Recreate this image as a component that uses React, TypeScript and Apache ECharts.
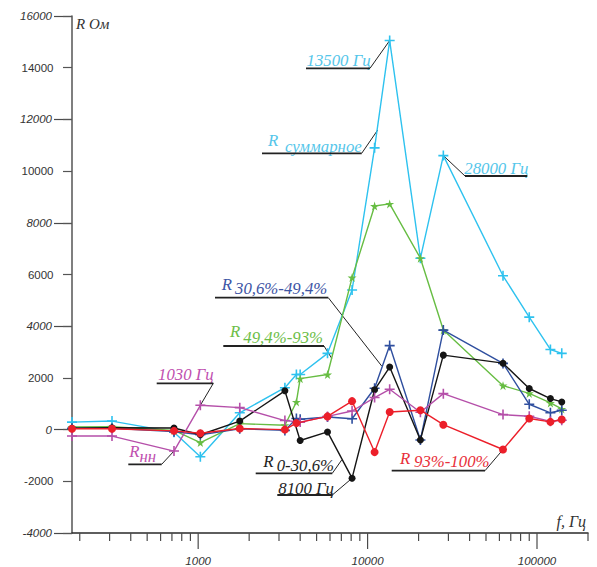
import React, { useEffect, useRef } from "react";
import * as echarts from "echarts";

// ---- data ----
const FREQS = [180, 310, 720, 1030, 1760, 3250, 3800, 4000, 5800, 8100, 11000, 13500, 20500, 28000, 63000, 90000, 120000, 140000];
const R_SUM = [290, 330, -100, -1050, 650, 1620, 2130, 2130, 2950, 5400, 10900, 15050, 6630, 10600, 5950, 4350, 3100, 2950];
const R_49_93 = [100, 110, -30, -500, 230, 170, 1070, 1970, 2130, 5880, 8650, 8730, 6630, 3850, 1700, 1400, 1030, 800];
const R_306_494 = [50, 50, -80, -200, 30, -30, 430, 400, 490, 420, 1600, 3250, -400, 3850, 2560, 980, 650, 750];
const R_0_306 = [50, 70, 60, -200, 330, 1500, null, -420, -90, -1880, 1540, 2420, -400, 2880, 2570, 1590, 1200, 1070];
const R_93_100 = [30, 30, -50, -140, 40, 0, 250, null, 510, 1100, -870, 680, 750, 190, -770, 430, 300, 390];
const R_NN = [-250, -250, -830, 940, 850, 350, null, 290, 510, 720, 1240, 1560, 670, 1390, 580, 515, 320, 360];

const X_MIN = 180;
const X_MAX = 200000;
const Y_MIN = -4000;
const Y_MAX = 16000;
const X_TICKS = [200, 300, 400, 500, 600, 700, 800, 900, 1000, 2000, 3000, 4000, 5000, 6000, 7000, 8000, 9000, 10000, 20000, 30000, 40000, 50000, 60000, 70000, 80000, 90000, 100000, 200000];
const X_TICK_LABELS = [1000, 10000, 100000];

// ---- styles ----
const CYAN = "#2ec2ef";
const GREEN = "#67bd43";
const BLUE = "#2f4f9f";
const BLACK = "#151515";
const RED = "#ec1f2a";
const MAGENTA = "#b54fa9";

const PLUS = "path://M4.2,0H5.8V4.2H10V5.8H5.8V10H4.2V5.8H0V4.2H4.2Z";
const STAR = "path://M50,0L61,35H98L68,57L79,91L50,70L21,91L32,57L2,35H39Z";

const SERIF = '"Liberation Serif", "DejaVu Serif", serif';
const SANS = '"Liberation Sans", Arial, sans-serif';

function pts(values: (number | null)[]) {
  return FREQS.map((f, i) => [f, values[i]]).filter((p) => p[1] !== null);
}

type Piece = { text: string; x: number; cy: number; size?: number };
type Ann = {
  color: string;
  pieces: Piece[];
  ul: [number, number, number]; // x1, x2, y
  from: [number, number];
  to: { px?: [number, number]; data?: [number, number] };
};

export default function App() {
  const ref = useRef<HTMLDivElement>(null);

  useEffect(() => {
    document.body.style.margin = "0";
    const chart = echarts.init(ref.current!, null, { renderer: "svg" });

    const line = (name: string, data: (number | null)[], color: string, symbol: string, size: number, z: number) => ({
      name,
      type: "line",
      data: pts(data),
      xAxisIndex: 0,
      yAxisIndex: 0,
      symbol,
      symbolSize: size,
      showSymbol: true,
      lineStyle: { color, width: 1.4 },
      itemStyle: { color },
      z,
    });

    chart.setOption({
      animation: false,
      backgroundColor: "#ffffff",
      grid: { left: 72, right: 9, top: 16, bottom: 34, containLabel: false },
      xAxis: {
        type: "log",
        logBase: 10,
        min: X_MIN,
        max: X_MAX,
        axisLine: { show: true, onZero: false, lineStyle: { color: "#2a2a2a", width: 1.5 } },
        axisTick: { show: false },
        axisLabel: { show: false },
        splitLine: { show: false },
        minorTick: { show: false },
      },
      yAxis: [
        {
          type: "value",
          min: Y_MIN,
          max: Y_MAX,
          interval: 4000,
          position: "left",
          axisLine: { show: true, onZero: false, lineStyle: { color: "#555", width: 1.5 } },
          axisTick: { show: true, length: 18, lineStyle: { color: "#4a4a4a", width: 1.2 } },
          axisLabel: {
            margin: 20,
            color: "#333",
            fontFamily: SANS,
            fontSize: 11.5,
            fontStyle: "italic",
            formatter: (v: number) => String(v),
          },
          splitLine: { show: false },
        },
        {
          type: "value",
          min: Y_MIN,
          max: Y_MAX,
          interval: 2000,
          position: "left",
          axisLine: { show: false, onZero: false },
          axisTick: { show: true, length: 9, lineStyle: { color: "#555", width: 1.2 } },
          axisLabel: {
            margin: 18.5,
            color: "#333",
            fontFamily: SANS,
            fontSize: 11.5,
            formatter: (v: number) => (v % 4000 === 0 ? "" : String(v)),
          },
          splitLine: { show: false },
        },
      ],
      series: [
        line("R суммарное", R_SUM, CYAN, PLUS, 10, 3),
        line("R 49,4%-93%", R_49_93, GREEN, STAR, 9, 4),
        line("R 30,6%-49,4%", R_306_494, BLUE, PLUS, 10, 5),
        line("R 0-30,6%", R_0_306, BLACK, "circle", 7, 6),
        line("Rнн", R_NN, MAGENTA, PLUS, 10, 7),
        line("R 93%-100%", R_93_100, RED, "circle", 8, 8),
        {
          type: "custom",
          xAxisIndex: 0,
          yAxisIndex: 0,
          clip: false,
          silent: true,
          encode: { x: 0, y: 1 },
          data: X_TICKS.map((v) => [v, Y_MIN]),
          renderItem: (_params: any, api: any) => {
            const v = api.value(0);
            const p = api.coord([v, Y_MIN]);
            const major = X_TICK_LABELS.includes(v);
            const children: any[] = [
              {
                type: "line",
                shape: { x1: p[0], y1: p[1], x2: p[0], y2: p[1] + (major ? 16 : 8) },
                style: { stroke: "#4a4a4a", lineWidth: 1.2 },
              },
            ];
            if (major) {
              children.push({
                type: "text",
                style: {
                  text: String(v),
                  x: p[0],
                  y: p[1] + 22,
                  align: "center",
                  verticalAlign: "top",
                  textAlign: "center",
                  textVerticalAlign: "top",
                  font: `italic 11.5px ${SANS}`,
                  fill: "#333",
                },
              });
            }
            return { type: "group", children };
          },
        },
      ],
    });

    const anns: Ann[] = [
      { color: "#55c6ea", pieces: [{ text: "13500 Гц", x: 306.5, cy: 60 }], ul: [306, 370, 68.3], from: [370, 68.3], to: { data: [FREQS[11], R_SUM[11] as number] } },
      { color: "#55c6ea", pieces: [{ text: "R", x: 268, cy: 140 }, { text: "суммарное", x: 285, cy: 146 }], ul: [262, 361.7, 153.3], from: [361.7, 153.3], to: { px: [377.7, 130] } },
      { color: "#55c6ea", pieces: [{ text: "28000 Гц", x: 464.3, cy: 168.3 }], ul: [465, 527.3, 176], from: [465, 176], to: { data: [FREQS[13], R_SUM[13] as number] } },
      { color: "#3d55a5", pieces: [{ text: "R", x: 221.7, cy: 284 }, { text: "30,6%-49,4%", x: 235, cy: 288.3 }], ul: [215, 328.3, 297.7], from: [328.3, 297.7], to: { px: [381.7, 366] } },
      { color: "#6dbe48", pieces: [{ text: "R", x: 230, cy: 331.7 }, { text: "49,4%-93%", x: 243.3, cy: 337.7 }], ul: [223.3, 324, 346], from: [324, 346], to: { px: [331.7, 358.3] } },
      { color: "#bf50b0", pieces: [{ text: "1030 Гц", x: 158, cy: 374.5 }], ul: [156.7, 213.3, 383.3], from: [213.3, 383.3], to: { data: [FREQS[3], R_NN[3] as number] } },
      { color: "#bf50b0", pieces: [{ text: "R", x: 129.3, cy: 451.7 }, { text: "нн", x: 139.5, cy: 456 }], ul: [128.3, 161.7, 464.3], from: [161.7, 464.3], to: { data: [FREQS[2], R_NN[2] as number] } },
      { color: "#1e1e1e", pieces: [{ text: "R", x: 263.3, cy: 461.7 }, { text: "0-30,6%", x: 276.7, cy: 465.5 }], ul: [255.7, 332.3, 473.3], from: [332.3, 473.3], to: { px: [341.7, 460] } },
      { color: "#1e1e1e", pieces: [{ text: "8100 Гц", x: 278.3, cy: 488.3 }], ul: [277.3, 332.3, 495], from: [332.3, 495], to: { data: [FREQS[9], R_0_306[9] as number] } },
      { color: "#e8303a", pieces: [{ text: "R", x: 400, cy: 458.3 }, { text: "93%-100%", x: 414, cy: 461.7 }], ul: [391.7, 485, 470.7], from: [485, 470.7], to: { data: [FREQS[14], R_93_100[14] as number] } },
    ];

    const graphic: any[] = [];
    anns.forEach((a) => {
      a.pieces.forEach((p) => {
        graphic.push({
          type: "text",
          x: p.x,
          y: p.cy,
          silent: true,
          style: {
            text: p.text,
            font: `italic ${p.size ?? 16.8}px ${SERIF}`,
            fill: a.color,
            align: "left",
            verticalAlign: "middle",
            textAlign: "left",
            textVerticalAlign: "middle",
          },
        });
      });
      graphic.push({
        type: "line",
        silent: true,
        shape: { x1: a.ul[0], y1: a.ul[2], x2: a.ul[1], y2: a.ul[2] },
        style: { stroke: "#222", lineWidth: 1.8 },
      });
      const t = a.to.data ? (chart.convertToPixel({ xAxisIndex: 0, yAxisIndex: 0 } as any, a.to.data) as number[]) : a.to.px!;
      graphic.push({
        type: "line",
        silent: true,
        shape: { x1: a.from[0], y1: a.from[1], x2: t[0], y2: t[1] },
        style: { stroke: "#222", lineWidth: 1 },
      });
    });

    // axis names
    graphic.push({
      type: "text",
      x: 76,
      y: 24,
      silent: true,
      style: { text: "R Ом", font: `italic 15px ${SERIF}`, fill: "#333", align: "left", verticalAlign: "middle", textAlign: "left", textVerticalAlign: "middle" },
    });
    graphic.push({
      type: "text",
      x: 556.5,
      y: 521.5,
      silent: true,
      style: { text: "f, Гц", font: `italic 16px ${SERIF}`, fill: "#333", align: "left", verticalAlign: "middle", textAlign: "left", textVerticalAlign: "middle" },
    });

    chart.setOption({ graphic });

    return () => chart.dispose();
  }, []);

  return <div ref={ref} style={{ position: "fixed", left: 0, top: 0, width: 597, height: 567 }} />;
}
